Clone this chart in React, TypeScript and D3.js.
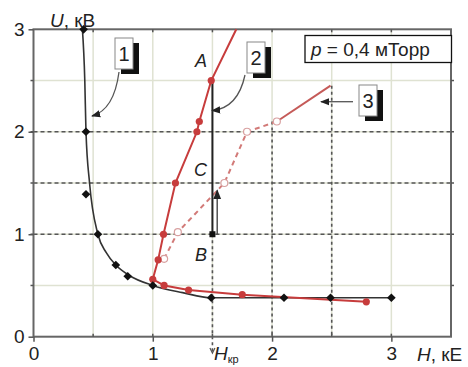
import { useEffect, useRef } from 'react';
import * as d3 from 'd3';

// curve 1 (black): measured points and the drawn fit line
const curve1H = [0.42, 0.44, 0.44, 0.54, 0.69, 0.79, 1.0, 1.49, 2.1, 2.49, 3.0];
const curve1U = [3.0, 2.0, 1.39, 1.0, 0.7, 0.59, 0.5, 0.38, 0.38, 0.38, 0.38];
const curve1LineH = [0.41, 0.43, 0.44, 0.47, 0.54, 0.61, 0.69, 0.8, 1.0, 1.25, 1.49, 3.0];
const curve1LineU = [3.0, 2.5, 2.0, 1.5, 1.0, 0.82, 0.7, 0.6, 0.5, 0.43, 0.38, 0.38];

// curve 2 (red, solid)
const curve2H = [1.7, 1.49, 1.39, 1.37, 1.19, 1.09, 1.045, 1.0, 1.095, 1.3, 1.75, 2.79];
const curve2U = [3.0, 2.5, 2.1, 2.0, 1.5, 1.0, 0.75, 0.56, 0.5, 0.455, 0.41, 0.34];

// curve 3 (red, dashed with open circles, then solid)
const curve3H = [1.095, 1.21, 1.6, 1.79, 2.04];
const curve3U = [0.76, 1.02, 1.5, 2.0, 2.1];
const curve3TailH = [2.04, 2.49];
const curve3TailU = [2.1, 2.45];

const xTicks = [0, 1, 2, 3];
const yTicks = [0, 1, 2, 3];
const halfSteps = [0.5, 1, 1.5, 2, 2.5, 3];
const dashedU = [1, 1.5, 2];
const guideH = [1.5, 2, 2.5];
const guideTop = [1.0, 2.1, 2.45];
const guideBottom = [-0.15, 0, 0];

const FONT = '"Liberation Sans", Arial, sans-serif';

const Chart = () => {
  const svgRef = useRef<SVGSVGElement>(null);

  useEffect(() => {
    const width = 468;
    const height = 367;
    const svg = d3.select(svgRef.current);
    svg.selectAll('*').remove();
    svg.attr('width', width).attr('height', height).style('font-family', FONT);

    const x = d3.scaleLinear().domain([0, 3.5]).range([33.5, 451]);
    const y = d3.scaleLinear().domain([0, 3]).range([336.7, 29.3]);

    svg.append('rect').attr('width', width).attr('height', height).attr('fill', '#fff');

    const defs = svg.append('defs');
    defs.append('marker')
      .attr('id', 'arr')
      .attr('viewBox', '0 0 10 10')
      .attr('refX', 9).attr('refY', 5)
      .attr('markerWidth', 7).attr('markerHeight', 7)
      .attr('orient', 'auto')
      .append('path').attr('d', 'M0,1 L10,5 L0,9 Z').attr('fill', '#222');

    // light grid
    const grid = svg.append('g').attr('stroke', '#dfe2d2').attr('stroke-width', 1.5);
    halfSteps.forEach(v => {
      grid.append('line').attr('x1', x(v)).attr('x2', x(v)).attr('y1', y(0)).attr('y2', y(3));
      if (v < 3) grid.append('line').attr('x1', x(0)).attr('x2', x(3.5)).attr('y1', y(v)).attr('y2', y(v));
    });

    // dark dashed guides
    const guides = svg.append('g').attr('stroke', '#555').attr('stroke-width', 1.6).attr('fill', 'none');
    dashedU.forEach(v => {
      guides.append('line').attr('x1', x(0)).attr('x2', x(3.5)).attr('y1', y(v)).attr('y2', y(v))
        .attr('stroke-dasharray', '4,3');
    });
    guideH.forEach((h, i) => {
      guides.append('line').attr('x1', x(h)).attr('x2', x(h)).attr('y1', y(guideTop[i])).attr('y2', y(guideBottom[i]))
        .attr('stroke-dasharray', '3,3');
    });
    guides.append('path')
      .attr('d', `M${x(1.5) - 2.5},${y(-0.15) - 4} L${x(1.5)},${y(-0.15) + 1} L${x(1.5) + 2.5},${y(-0.15) - 4}`)
      .attr('stroke-width', 1.2);

    // frame
    svg.append('rect')
      .attr('x', x(0)).attr('y', y(3))
      .attr('width', x(3.5) - x(0)).attr('height', y(0) - y(3))
      .attr('fill', 'none').attr('stroke', '#666').attr('stroke-width', 2);

    // minor ticks
    const ticks = svg.append('g').attr('stroke', '#555').attr('stroke-width', 1.5);
    halfSteps.forEach(v => {
      ticks.append('line').attr('x1', x(v)).attr('x2', x(v)).attr('y1', y(3)).attr('y2', y(3) + 3);
      ticks.append('line').attr('x1', x(v)).attr('x2', x(v)).attr('y1', y(0)).attr('y2', y(0) - 3);
      if (v < 3) {
        ticks.append('line').attr('x1', x(0) - 3).attr('x2', x(0)).attr('y1', y(v)).attr('y2', y(v));
        ticks.append('line').attr('x1', x(3.5)).attr('x2', x(3.5) + 3).attr('y1', y(v)).attr('y2', y(v));
      }
    });

    // axes labels
    const yAxis = svg.append('g').attr('transform', `translate(${x(0)},0)`)
      .call(d3.axisLeft(y).tickValues(yTicks).tickSize(5).tickPadding(4).tickFormat(d3.format('d')));
    const xAxis = svg.append('g').attr('transform', `translate(0,${y(0)})`)
      .call(d3.axisBottom(x).tickValues(xTicks).tickSize(5).tickPadding(5).tickFormat(d3.format('d')));
    [yAxis, xAxis].forEach(a => {
      a.select('.domain').remove();
      a.selectAll('line').attr('stroke', '#555').attr('stroke-width', 1.5);
      a.selectAll('text').attr('font-size', 19).attr('fill', '#222').style('font-family', FONT);
    });

    // curve 1
    const line = d3.line<[number, number]>().x(d => x(d[0])).y(d => y(d[1]));
    const c1Line = curve1LineH.map((h, i) => [h, curve1LineU[i]] as [number, number]);
    svg.append('path').datum(c1Line)
      .attr('d', line.curve(d3.curveMonotoneX))
      .attr('fill', 'none').attr('stroke', '#333').attr('stroke-width', 1.6);

    // curve 3
    const c3 = curve3H.map((h, i) => [h, curve3U[i]] as [number, number]);
    const c3Tail = curve3TailH.map((h, i) => [h, curve3TailU[i]] as [number, number]);
    const lin = d3.line<[number, number]>().x(d => x(d[0])).y(d => y(d[1]));
    svg.append('path').datum(c3).attr('d', lin)
      .attr('fill', 'none').attr('stroke', '#d27a78').attr('stroke-width', 2).attr('stroke-dasharray', '5,4');
    svg.append('path').datum(c3Tail).attr('d', lin)
      .attr('fill', 'none').attr('stroke', '#c55a58').attr('stroke-width', 2);
    svg.append('g').selectAll('circle').data(c3).enter().append('circle')
      .attr('cx', d => x(d[0])).attr('cy', d => y(d[1])).attr('r', 3.5)
      .attr('fill', '#fff').attr('stroke', '#d8a0a0').attr('stroke-width', 1.2);

    // vertical A-B line and the arrow beside it
    svg.append('line').attr('x1', x(1.5)).attr('x2', x(1.5)).attr('y1', y(2.5)).attr('y2', y(1.0))
      .attr('stroke', '#222').attr('stroke-width', 2);
    svg.append('line').attr('x1', x(1.54)).attr('x2', x(1.54)).attr('y1', y(1.0)).attr('y2', y(1.43))
      .attr('stroke', '#444').attr('stroke-width', 1.4).attr('marker-end', 'url(#arr)');
    svg.append('rect').attr('x', x(1.5) - 3).attr('y', y(1.0) - 3).attr('width', 6).attr('height', 6).attr('fill', '#111');

    // curve 2
    const c2 = curve2H.map((h, i) => [h, curve2U[i]] as [number, number]);
    svg.append('path').datum(c2).attr('d', lin)
      .attr('fill', 'none').attr('stroke', '#c73c3c').attr('stroke-width', 2);
    svg.append('g').selectAll('circle').data(c2.slice(1)).enter().append('circle')
      .attr('cx', d => x(d[0])).attr('cy', d => y(d[1])).attr('r', 3.6).attr('fill', '#c73c3c');

    // curve 1 markers
    const c1 = curve1H.map((h, i) => [h, curve1U[i]] as [number, number]);
    svg.append('g').selectAll('path').data(c1).enter().append('path')
      .attr('d', d3.symbol(d3.symbolDiamond2, 48)())
      .attr('transform', d => `translate(${x(d[0])},${y(d[1])})`)
      .attr('fill', '#111');

    // axis titles
    const uTitle = svg.append('text').attr('x', 50).attr('y', 27).attr('font-size', 19).attr('fill', '#222');
    uTitle.append('tspan').attr('font-style', 'italic').text('U');
    uTitle.append('tspan').text(', кВ');
    const hTitle = svg.append('text').attr('x', 417).attr('y', 361).attr('font-size', 19).attr('fill', '#222');
    hTitle.append('tspan').attr('font-style', 'italic').text('H');
    hTitle.append('tspan').text(', кЕ');
    const hkr = svg.append('text').attr('x', 214).attr('y', 360).attr('font-size', 19).attr('fill', '#222');
    hkr.append('tspan').attr('font-style', 'italic').text('H');
    hkr.append('tspan').attr('font-size', 11).attr('dy', 3).text('кр');

    // point letters
    [['A', 67], ['C', 176], ['B', 261]].forEach(([t, yy]) => {
      svg.append('text').attr('x', 207).attr('y', yy).attr('text-anchor', 'end')
        .attr('font-size', 18).attr('font-style', 'italic').attr('fill', '#222').text(t);
    });

    // callout boxes
    const callouts = [
      { label: '1', bx: 115, by: 38 },
      { label: '2', bx: 247, by: 42 },
      { label: '3', bx: 359, by: 85 },
    ];
    callouts.forEach(c => {
      svg.append('rect').attr('x', c.bx + 6).attr('y', c.by + 5).attr('width', 18).attr('height', 31).attr('fill', '#111');
      svg.append('rect').attr('x', c.bx).attr('y', c.by).attr('width', 18).attr('height', 31)
        .attr('fill', '#fff').attr('stroke', '#888').attr('stroke-width', 1);
      svg.append('text').attr('x', c.bx + 9).attr('y', c.by + 23).attr('text-anchor', 'middle')
        .attr('font-size', 20).attr('fill', '#222').text(c.label);
    });
    const leaders = svg.append('g').attr('fill', 'none').attr('stroke', '#555').attr('stroke-width', 1.3);
    leaders.append('path').attr('d', 'M119,72 Q114,110 92,116').attr('marker-end', 'url(#arr)');
    leaders.append('path').attr('d', 'M245,75 Q238,108 212,110.7').attr('marker-end', 'url(#arr)');
    leaders.append('path').attr('d', 'M353,101.7 L321,101.7').attr('marker-end', 'url(#arr)');

    // pressure box
    svg.append('rect').attr('x', 305).attr('y', 35.5).attr('width', 146.5).attr('height', 27)
      .attr('fill', '#fff').attr('stroke', '#111').attr('stroke-width', 1.3);
    const pText = svg.append('text').attr('x', 311).attr('y', 56).attr('font-size', 19).attr('fill', '#222');
    pText.append('tspan').attr('font-style', 'italic').text('p');
    pText.append('tspan').text(' = 0,4 мТорр');
  }, []);

  return <svg ref={svgRef} style={{ position: 'absolute', left: 0, top: 0 }} />;
};

export default function App() {
  return <Chart />;
}
